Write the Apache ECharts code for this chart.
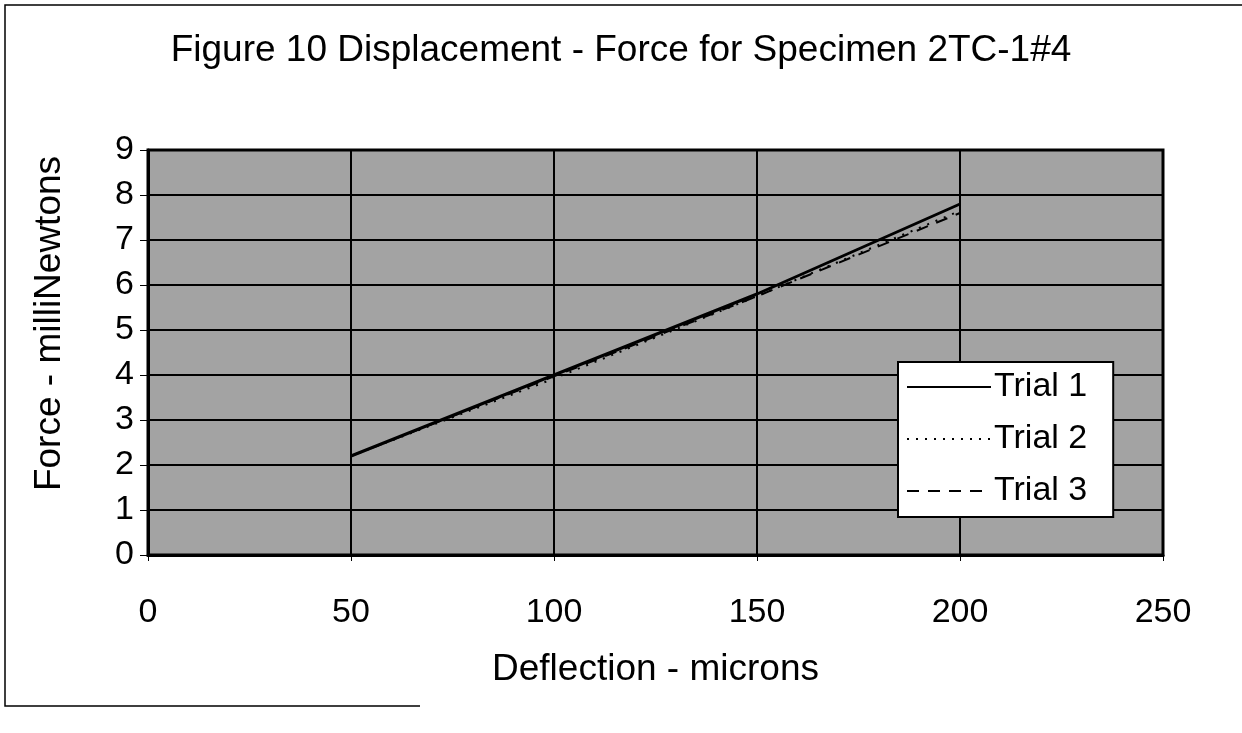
<!DOCTYPE html>
<html>
<head>
<meta charset="utf-8">
<script src="https://cdn.jsdelivr.net/npm/echarts@6/dist/echarts.min.js"></script>
<style>
html,body{margin:0;padding:0;background:#fff;}
#chart{width:1242px;height:733px;}
</style>
</head>
<body>
<div id="chart"></div>
<script>
// Data
const deflection = [50, 100, 150, 200];
const trial1 = [2.2, 4.0, 5.8, 7.8];
const trial2 = [2.2, 3.92, 5.75, 7.65];
const trial3 = [2.2, 3.97, 5.75, 7.6];
const seriesNames = ['Trial 1', 'Trial 2', 'Trial 3'];
const xTicks = [0, 50, 100, 150, 200, 250];
const yTicks = [0, 1, 2, 3, 4, 5, 6, 7, 8, 9];

function pairs(xs, ys) { return xs.map((x, i) => [x, ys[i]]); }

const font = '"Liberation Sans", Arial, sans-serif';
const chart = echarts.init(document.getElementById('chart'), null, {renderer: 'canvas'});

chart.setOption({
  backgroundColor: '#ffffff',
  animation: false,
  title: {
    text: 'Figure 10 Displacement - Force for Specimen 2TC-1#4',
    left: 'center',
    top: 27,
    textStyle: {fontFamily: font, fontSize: 37, fontWeight: 'normal', color: '#000'}
  },
  grid: {
    left: 148, right: 79, top: 150, bottom: 178,
    show: true,
    backgroundColor: '#a3a3a3',
    borderColor: '#000',
    borderWidth: 3
  },
  legend: {
    orient: 'vertical',
    left: 898, top: 362,
    padding: [8, 26, 9, 8],
    backgroundColor: '#ffffff',
    borderColor: '#000',
    borderWidth: 2,
    itemWidth: 84,
    itemHeight: 20,
    itemGap: 18,
    data: seriesNames,
    itemStyle: {opacity: 0},
    textStyle: {fontFamily: font, fontSize: 34, color: '#000', padding: [0, 0, 0, -2]}
  },
  xAxis: {
    type: 'value',
    min: xTicks[0], max: xTicks[xTicks.length - 1], interval: 50,
    name: 'Deflection - microns',
    nameLocation: 'middle',
    nameGap: 96,
    nameTextStyle: {fontFamily: font, fontSize: 37, color: '#000'},
    axisLine: {show: true, lineStyle: {color: '#000', width: 3}},
    axisTick: {show: true, length: 6, lineStyle: {color: '#000', width: 1}},
    axisLabel: {fontFamily: font, fontSize: 34, color: '#000', margin: 41},
    splitLine: {show: true, lineStyle: {color: '#000', width: 2}}
  },
  yAxis: {
    type: 'value',
    min: yTicks[0], max: yTicks[yTicks.length - 1], interval: 1,
    name: 'Force - milliNewtons',
    nameLocation: 'middle',
    nameGap: 80,
    nameTextStyle: {fontFamily: font, fontSize: 37, color: '#000', padding: [0, 0, 0, 58]},
    axisLine: {show: true, lineStyle: {color: '#000', width: 3}},
    axisTick: {show: true, length: 8, lineStyle: {color: '#000', width: 1}},
    axisLabel: {fontFamily: font, fontSize: 34, color: '#000', margin: 14},
    splitLine: {show: true, lineStyle: {color: '#000', width: 2}}
  },
  graphic: [{
    type: 'polyline',
    shape: {points: [[1242, 5], [5, 5], [5, 706], [420, 706]]},
    style: {stroke: '#000', lineWidth: 1.5, fill: null},
    silent: true
  }],
  series: [
    {name: seriesNames[0], type: 'line', data: pairs(deflection, trial1), symbol: 'none', z: 5,
     lineStyle: {color: '#000', width: 3, type: 'solid'}, itemStyle: {color: '#000'}},
    {name: seriesNames[1], type: 'line', data: pairs(deflection, trial2), symbol: 'none', z: 4,
     lineStyle: {color: '#000', width: 2, type: [2, 7]}, itemStyle: {color: '#000'}},
    {name: seriesNames[2], type: 'line', data: pairs(deflection, trial3), symbol: 'none', z: 3,
     lineStyle: {color: '#000', width: 2, type: [12, 9]}, itemStyle: {color: '#000'}}
  ]
});
</script>
</body>
</html>
